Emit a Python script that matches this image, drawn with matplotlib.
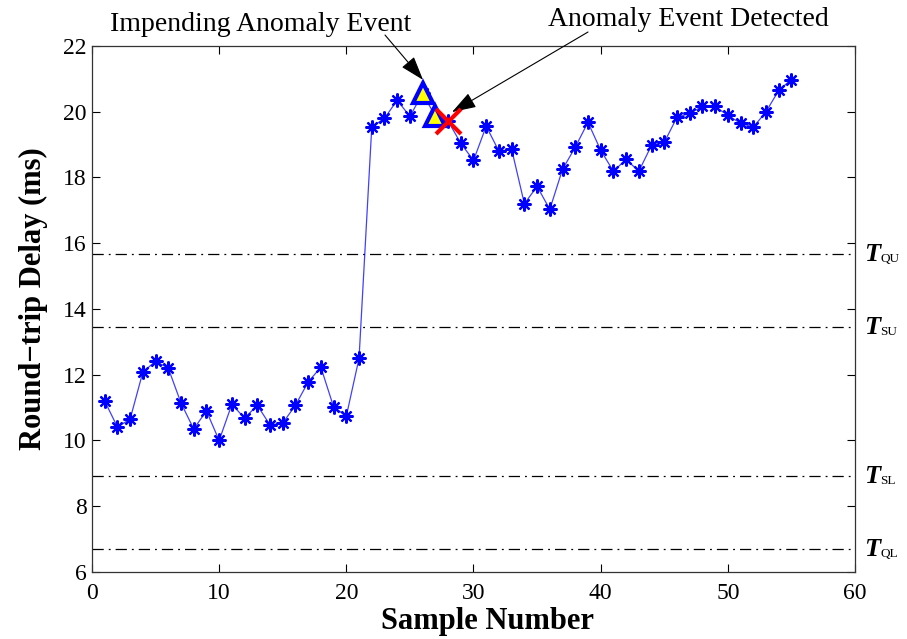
import matplotlib
matplotlib.use("Agg")
import matplotlib.pyplot as plt
from matplotlib.transforms import blended_transform_factory

plt.rcParams['font.family'] = ['Liberation Serif', 'DejaVu Serif']

# Round-trip delay samples
samples = list(range(1, 56))
delay_ms = [11.2, 10.41, 10.65, 12.08, 12.41, 12.2, 11.14, 10.35, 10.9, 10.0,
            11.1, 10.68, 11.07, 10.47, 10.53, 11.07, 11.78, 12.23, 11.02, 10.74,
            12.5, 19.53, 19.8, 20.35, 19.86, 20.56, 19.86, 19.72, 19.04, 18.52,
            19.56, 18.8, 18.86, 17.2, 17.73, 17.03, 18.25, 18.92, 19.68, 18.83,
            18.19, 18.55, 18.19, 18.98, 19.07, 19.83, 19.95, 20.16, 20.16, 19.89,
            19.65, 19.53, 20.0, 20.65, 20.98]

# Event markers
impending_x = [26, 27]
detected_x = 28

# Threshold levels
thresholds = {'QU': 15.67, 'SU': 13.45, 'SL': 8.92, 'QL': 6.70}

x_ticks = [0, 10, 20, 30, 40, 50, 60]
y_ticks = [6, 8, 10, 12, 14, 16, 18, 20, 22]

fig = plt.figure(figsize=(9.07, 6.39), dpi=100)
ax = fig.add_axes([0.1014, 0.1049, 0.8413, 0.8231])

for lvl in thresholds.values():
    ax.axhline(lvl, color='black', lw=0.9, ls=(0, (9, 4, 1.5, 4)), zorder=1)

ax.plot(samples, delay_ms, color='blue', lw=0.9, alpha=0.75, zorder=2)
ax.plot(samples, delay_ms, ls='none', marker=(8, 2, 0), ms=10, color='blue',
        markeredgewidth=1.6, zorder=3)

tri_y = [delay_ms[i - 1] for i in impending_x]
ax.plot(impending_x, tri_y, ls='none', marker='^', ms=15, markerfacecolor='yellow',
        markeredgecolor='blue', markeredgewidth=3, zorder=4)
ax.plot([detected_x], [delay_ms[detected_x - 1]], ls='none', marker='x', ms=18,
        color='red', markeredgewidth=3, zorder=5)

ax.set_xlim(0, 60)
ax.set_ylim(6, 22)
ax.set_xticks(x_ticks)
ax.set_yticks(y_ticks)
ax.tick_params(direction='in', top=True, right=True, length=6, width=0.8,
               labelsize=17)
ax.tick_params(axis='x', pad=8)
ax.tick_params(axis='y', pad=4)
for s in ax.spines.values():
    s.set_linewidth(0.9)
    s.set_color('#333333')

ax.set_xlabel('Sample Number', fontsize=22, fontweight='bold')
ax.xaxis.set_label_coords(0.519, -0.067)
ax.set_ylabel('Round\u2212trip Delay (ms)', fontsize=22, fontweight='bold')
ax.yaxis.set_label_coords(-0.058, 0.519)

# Threshold labels on the right
tr = blended_transform_factory(ax.transAxes, ax.transData)
for name, lvl in thresholds.items():
    ax.text(1.012, lvl - 0.22, 'T', transform=tr, fontsize=19, fontweight='bold',
            fontstyle='italic', va='baseline', ha='left')
    ax.text(1.033, lvl - 0.24, name, transform=tr, fontsize=9.5,
            va='baseline', ha='left')

# Event annotations
fig.text(0.2878, 0.962, 'Impending Anomaly Event', fontsize=20,
         ha='center', va='center')
fig.text(0.7585, 0.970, 'Anomaly Event Detected', fontsize=20,
         ha='center', va='center')
arrow = dict(arrowstyle='-|>,head_length=0.75,head_width=0.25', color='black',
             lw=0.8, mutation_scale=20, shrinkA=0, shrinkB=0)
ax.annotate('', xy=(26.03, 20.97), xytext=(0.4245, 0.9452),
            textcoords='figure fraction', arrowprops=arrow)
ax.annotate('', xy=(28.31, 19.99), xytext=(0.6483, 0.9499),
            textcoords='figure fraction', arrowprops=arrow)

fig.savefig('out.png', dpi=100)
